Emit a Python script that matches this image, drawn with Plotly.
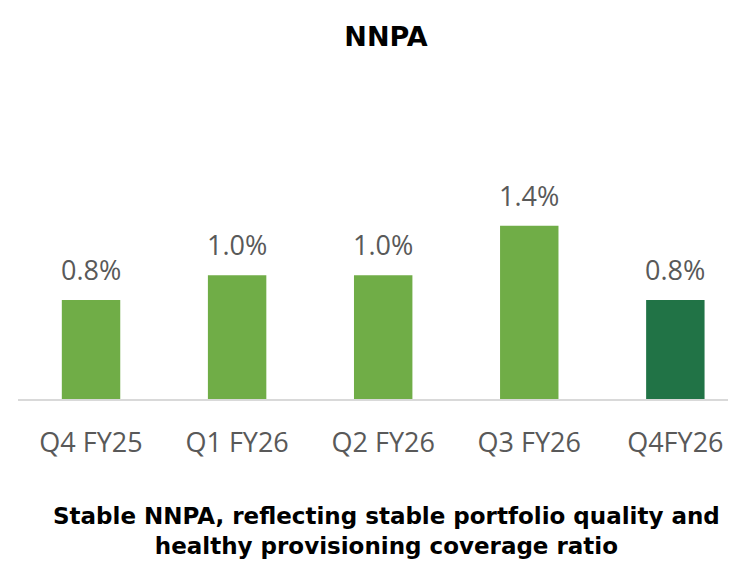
import plotly.graph_objects as go

categories = ["Q4 FY25", "Q1 FY26", "Q2 FY26", "Q3 FY26", "Q4FY26"]
nnpa = [0.8, 1.0, 1.0, 1.4, 0.8]
labels = ["0.8%", "1.0%", "1.0%", "1.4%", "0.8%"]
bar_colors = ["#70AD47", "#70AD47", "#70AD47", "#70AD47", "#217346"]

title_text = "NNPA"
caption = "Stable NNPA, reflecting stable portfolio quality and<br>healthy provisioning coverage ratio"

FONT = "Open Sans"
BOLD_FONT = "DejaVu Sans"
GRAY = "#595959"

fig = go.Figure()
fig.add_trace(go.Bar(
    x=list(range(len(categories))),
    y=nnpa,
    marker=dict(color=bar_colors, line=dict(width=0)),
    hoverinfo="skip",
))

for i, (v, t) in enumerate(zip(nnpa, labels)):
    fig.add_annotation(x=i, y=v, text=t, showarrow=False, xref="x", yref="y",
                       yanchor="bottom", yshift=10,
                       font=dict(family=FONT, size=27, color=GRAY))

fig.update_layout(
    width=736, height=562,
    margin=dict(l=10, r=0, t=100, b=171),
    paper_bgcolor="white", plot_bgcolor="white",
    showlegend=False,
    bargap=0.6,
    title=dict(text=f"<b>{title_text}</b>", x=378/736, xref="container", xanchor="center",
               y=1 - 29/562, yref="container", yanchor="middle",
               font=dict(family=BOLD_FONT, size=27, color="black")),
    xaxis=dict(
        tickmode="array", tickvals=list(range(len(categories))), ticktext=categories,
        range=[-0.5, 4.47], showgrid=False, zeroline=False,
        showline=True, linecolor="#D9D9D9", linewidth=2,
        ticks="", ticklabelstandoff=19,
        tickfont=dict(family=FONT, size=27, color=GRAY), fixedrange=True,
    ),
    yaxis=dict(range=[0, 2.352], visible=False, fixedrange=True),
)

fig.add_annotation(x=(378 - 10) / 726, y=(391 - 523) / 291, xref="paper", yref="paper",
                   text=f"<b>{caption}</b>", showarrow=False, xanchor="center", yanchor="middle",
                   align="center", font=dict(family=BOLD_FONT, size=23, color="black"))

fig.add_shape(type="line", xref="paper", yref="paper",
              x0=-10 / 726, x1=1, y0=(391 - 560) / 291, y1=(391 - 560) / 291,
              line=dict(color="#A3C4A3", width=2))

fig.write_html("out.html")
